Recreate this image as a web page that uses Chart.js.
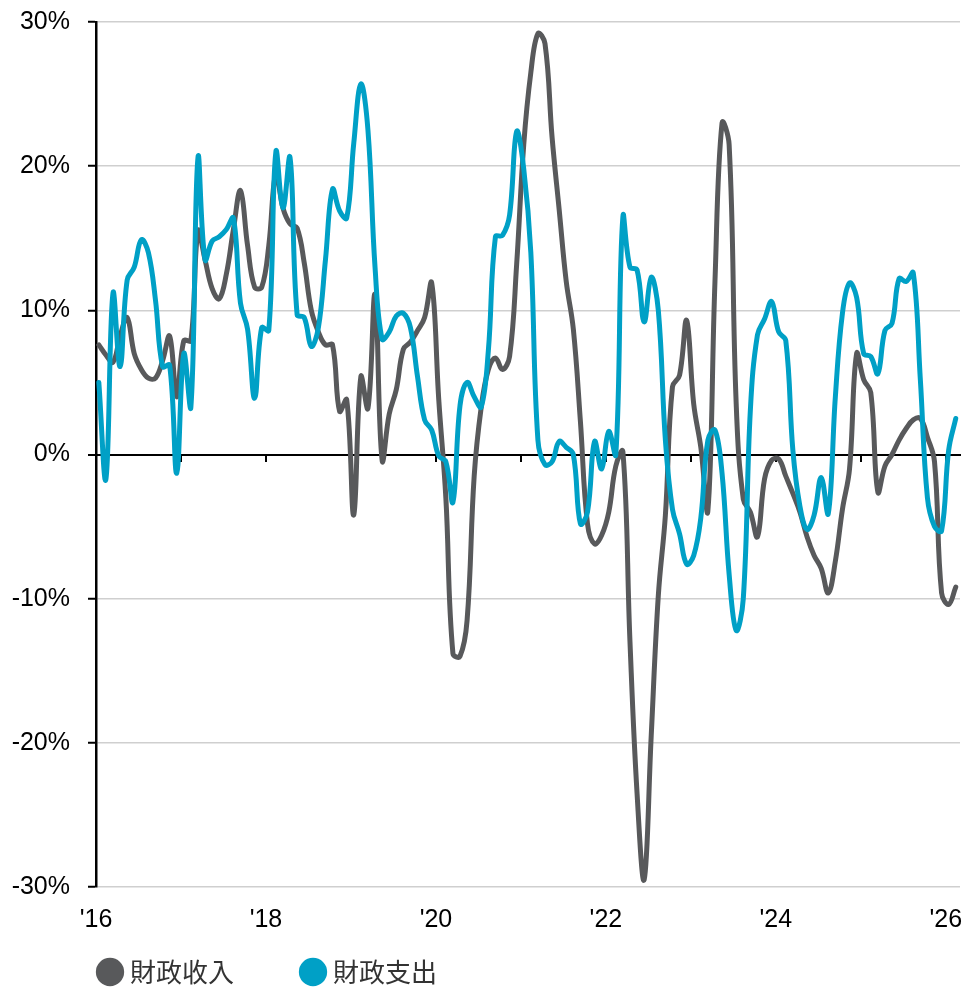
<!DOCTYPE html>
<html>
<head>
<meta charset="utf-8">
<script src="https://cdn.jsdelivr.net/npm/chart.js@4.4.1/dist/chart.umd.min.js"></script>
<style>
html,body{margin:0;padding:0;background:#ffffff;}
#wrap{position:relative;width:971px;height:990px;}
</style>
</head>
<body>
<div id="wrap"><canvas id="c"></canvas></div>
<script>
// ---- categories: monthly, Jan 2016 .. Feb 2026 ----
const categories = [];
for (let yr = 2016; yr <= 2026; yr++) {
  for (let mo = 1; mo <= 12; mo++) {
    if (categories.length < 122) categories.push(yr + '-' + String(mo).padStart(2, '0'));
  }
}

// ---- series values (% y/y) ----
const revenue = [
  7.6, 6.9, 6.4, 8.2, 9.5, 7.0, 5.9, 5.3, 5.3, 6.5,
  8.2, 4.0, 7.9, 7.9, 15.5, 13.5, 11.5, 10.8, 12.5, 15.6,
  18.3, 14.5, 11.6, 11.6, 14.5, 19.5, 17.1, 16.0, 15.7, 13.3,
  10.0, 8.5, 7.6, 7.6, 3.0, 3.8, -4.2, 5.4, 3.2, 11.1,
  -0.4, 2.8, 4.5, 7.3, 7.8, 8.6, 9.5, 11.9, 3.8, -3.0,
  -13.8, -14.0, -11.5, -1.5, 3.3, 5.9, 6.7, 5.9, 6.8, 13.2,
  21.5, 26.5, 29.2, 28.5, 22.0, 17.0, 12.0, 8.7, 2.3, -4.8,
  -6.2, -5.6, -4.0, -0.8, 0.2, -13.0, -23.5, -29.5, -19.5, -9.8,
  -4.2, 4.7, 5.5, 9.3, 3.5, 0.5, -3.9, 12.0, 23.0, 21.5,
  3.5, -3.1, -4.0, -5.7, -1.7, -0.4, -0.3, -1.5, -2.7, -4.0,
  -5.7, -7.0, -7.9, -9.6, -7.4, -3.8, -1.0, 7.0, 5.2, 4.3,
  -2.6, -0.8, 0.0, 1.0, 1.8, 2.4, 2.5, 1.2, -0.5, -9.6,
  -10.4, -9.2
];
const expenditure = [
  5.0, -1.7, 11.2, 6.1, 12.1, 13.0, 14.9, 14.0, 10.7, 6.1,
  6.2, -1.3, 7.0, 3.3, 20.6, 13.5, 14.8, 15.1, 15.6, 16.4,
  10.5, 8.7, 3.9, 8.8, 8.6, 21.0, 17.1, 20.6, 9.7, 9.5,
  7.5, 8.8, 13.5, 18.4, 16.9, 16.4, 21.6, 25.7, 22.5, 13.0,
  8.0, 8.5, 9.6, 9.8, 8.8, 5.4, 2.4, 1.7, -0.1, -0.5,
  -3.3, 3.4, 5.0, 4.0, 3.3, 7.2, 15.1, 15.2, 16.6, 22.4,
  19.8, 14.0, 1.0, -0.7, -0.5, 0.9, 0.5, 0.0, -4.8, -4.0,
  0.9, -1.0, 1.6, 0.0, 16.5, 13.0, 12.8, 9.2, 12.3, 10.0,
  1.0, -3.8, -5.5, -7.6, -7.0, -4.4, 1.0, 1.7, -1.3, -8.3,
  -12.2, -10.0, 3.1, 8.3, 9.4, 10.6, 8.5, 7.9, 0.3, -3.6,
  -5.2, -4.2, -1.6, -4.1, 4.0, 9.8, 11.9, 10.9, 7.0, 6.8,
  5.6, 8.6, 9.1, 12.2, 12.0, 12.6, 5.2, -3.0, -5.0, -5.3,
  0.3, 2.5
];

// ---- tick labels ----
const xTickLabels = ["'16", "'18", "'20", "'22", "'24", "'26"];
const seriesNames = ['財政收入', '財政支出'];

// ---- styling ----
const GRAY = '#58595B';
const TEAL = '#00A0C6';
const LATIN = '"Liberation Sans", Arial, Helvetica, sans-serif';
const CJK = '"Noto Sans CJK TC", "Noto Sans CJK SC", "Noto Sans", sans-serif';
const pointShift = 0.4; // points sit slightly after the month tick

function toPoints(values) {
  return values.map((v, i) => ({ x: i + pointShift, y: v, cat: categories[i] }));
}

// let the y-axis labels extend left of the axis box (no clipping)
const yLabelRoom = {
  id: 'yLabelRoom',
  afterLayout(ch) { if (ch.scales.y) ch.scales.y.left = 0; }
};

const chart = new Chart(document.getElementById('c'), {
  type: 'line',
  plugins: [yLabelRoom],
  data: {
    labels: categories,
    datasets: [
      {
        label: seriesNames[0],
        data: toPoints(revenue),
        xAxisID: 'x', yAxisID: 'y',
        borderColor: GRAY, backgroundColor: GRAY,
        borderWidth: 5, pointRadius: 0, pointHoverRadius: 0,
        tension: 0.4, borderCapStyle: 'round', borderJoinStyle: 'round',
        order: 2
      },
      {
        label: seriesNames[1],
        data: toPoints(expenditure),
        xAxisID: 'x', yAxisID: 'y',
        borderColor: TEAL, backgroundColor: TEAL,
        borderWidth: 5, pointRadius: 0, pointHoverRadius: 0,
        tension: 0.4, borderCapStyle: 'round', borderJoinStyle: 'round',
        order: 1
      }
    ]
  },
  options: {
    responsive: true,
    maintainAspectRatio: false,
    animation: false,
    events: [],
    layout: { padding: { left: 31, right: 11, top: 22, bottom: 0 } },
    plugins: {
      tooltip: { enabled: false },
      legend: {
        position: 'bottom',
        align: 'start',
        maxHeight: 103,
        labels: {
          usePointStyle: true,
          pointStyle: 'circle',
          boxWidth: 14,
          boxHeight: 20,
          padding: 72,
          color: '#333333',
          font: { family: CJK, size: 26 },
          sort: (a, b) => a.datasetIndex - b.datasetIndex,
          generateLabels: (ch) => Chart.defaults.plugins.legend.labels.generateLabels(ch)
            .map(item => Object.assign(item, { lineWidth: 0 }))
        }
      }
    },
    scales: {
      x: {
        type: 'linear',
        position: { y: -30 },
        min: 0, max: 122,
        afterFit: (s) => { s.paddingLeft = 0; s.paddingRight = 0; },
        grid: { display: false, drawTicks: false },
        border: { display: false },
        ticks: {
          stepSize: 24,
          includeBounds: false,
          autoSkip: false,
          maxRotation: 0,
          padding: 18,
          color: '#000000',
          font: { family: LATIN, size: 25 },
          callback: (v) => {
            const k = Math.round(v / 24);
            return (Math.abs(v - k * 24) < 1e-6 && xTickLabels[k] !== undefined) ? xTickLabels[k] : '';
          }
        }
      },
      xZero: {
        type: 'linear',
        axis: 'x',
        position: { y: 0 },
        min: 0, max: 122,
        afterFit: (s) => { s.paddingLeft = 0; s.paddingRight = 0; },
        grid: { drawOnChartArea: false, drawTicks: true, tickLength: 6, color: '#000000', lineWidth: 2 },
        border: { display: true, color: '#000000', width: 2 },
        ticks: { display: false, stepSize: 12, includeBounds: false, maxTicksLimit: 20 }
      },
      y: {
        type: 'linear',
        position: 'left',
        min: -30, max: 30,
        afterFit: (s) => { s.width = 65; s.paddingTop = 0; s.paddingBottom = 0; },
        border: { display: true, color: '#000000', width: 2.5 },
        grid: {
          color: (c) => (c.tick && c.tick.value === 0) ? '#000000' : '#cfcfcf',
          lineWidth: (c) => (c.tick && c.tick.value === 0) ? 2 : 1.5,
          tickColor: '#000000',
          tickWidth: 2,
          tickLength: 8
        },
        ticks: {
          stepSize: 10,
          padding: 18,
          color: '#000000',
          font: { family: LATIN, size: 25 },
          callback: (v) => v + '%'
        }
      }
    }
  }
});
</script>
</body>
</html>
